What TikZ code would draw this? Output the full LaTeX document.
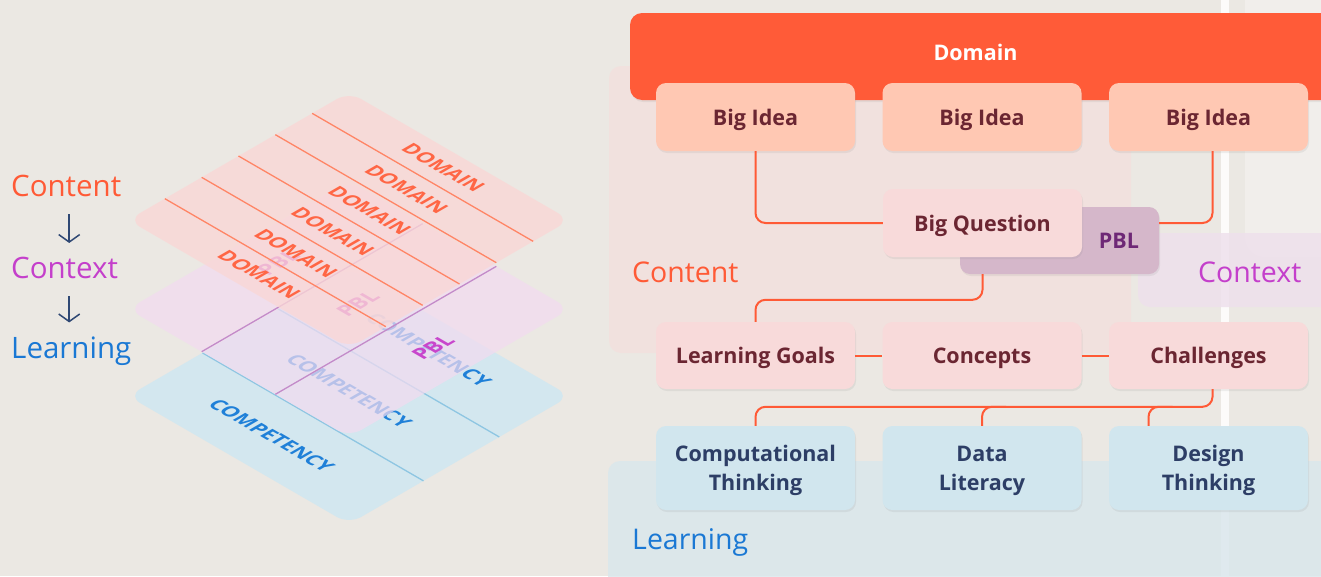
\documentclass[tikz,border=0pt]{standalone}
\usepackage{fontspec}
\setmainfont{Open Sans}
\usetikzlibrary{arrows.meta,calc,shadows}
\definecolor{bgc}{HTML}{EBE8E3}
\definecolor{contentc}{HTML}{FF5A36}
\definecolor{contextc}{HTML}{C43FCB}
\definecolor{learnc}{HTML}{1A78D4}
\definecolor{arrowc}{HTML}{2F4874}
\definecolor{topfill}{HTML}{FAD7D6}
\definecolor{topline}{HTML}{FF8566}
\definecolor{domc}{HTML}{FF6645}
\definecolor{midfill}{HTML}{F2DBF0}
\definecolor{midline}{HTML}{C38BC9}
\definecolor{pblc}{HTML}{C846CC}
\definecolor{botfill}{HTML}{D3E7EF}
\definecolor{botline}{HTML}{8EC6E2}
\definecolor{compc}{HTML}{1F80D8}
\definecolor{dombarc}{HTML}{FF5B38}
\definecolor{bigideac}{HTML}{FFC8B3}
\definecolor{pinkbox}{HTML}{F8DADA}
\definecolor{pblbox}{HTML}{D5B7CA}
\definecolor{bluebox}{HTML}{D1E6EE}
\definecolor{maroonc}{HTML}{6B2632}
\definecolor{navyc}{HTML}{2D3E66}
\definecolor{pbltxt}{HTML}{6E2876}
\definecolor{connc}{HTML}{FF5A36}
\definecolor{contreg}{HTML}{F3E0DE}
\definecolor{ctxreg}{HTML}{EEE0EC}
\definecolor{lrnreg}{HTML}{DAE7EC}
\begin{document}
\begin{tikzpicture}[x=1pt,y=-1pt,
  lbl/.style={inner sep=0pt, anchor=west, font=\fontsize{28.5}{30}\selectfont},
  llbl/.style={lbl, font=\fontsize{29.5}{30}\selectfont},
  downarr/.style={arrowc, line width=1.5pt, -{Straight Barb[length=7.5pt,width=21pt]}},
  isoA/.style={cm={0.866,-0.5,0.866,0.5,(0,0)}, transform shape, inner sep=0pt, font=\fontsize{20}{20}\selectfont\bfseries},
  isoB/.style={cm={0.866,0.5,-0.866,0.5,(0,0)}, transform shape, inner sep=0pt, font=\fontsize{21}{21}\selectfont\bfseries},
  box/.style={rounded corners=10pt, minimum width=199pt, minimum height=68pt, inner sep=0pt, align=center,
     text depth=0pt, font=\fontsize{21.5}{29}\selectfont\bfseries, drop shadow={opacity=0.12,shadow xshift=1pt,shadow yshift=-2pt}},
  bigidea/.style={box, fill=bigideac, text=maroonc},
  pinkb/.style={box, fill=pinkbox, text=maroonc, minimum height=67pt},
  blueb/.style={box, fill=bluebox, text=navyc, minimum height=84pt},
  pblb/.style={box, fill=pblbox, minimum height=67pt},
  conn/.style={connc, line width=2pt, rounded corners=10pt},
  region/.style={rounded corners=12pt, fill opacity=0.85},
  boxtxt/.style={inner sep=0pt, text depth=0pt, font=\fontsize{21.5}{22}\selectfont\bfseries}]
\useasboundingbox (0,0) rectangle (1321,576);
\clip (0,0) rectangle (1321,576);
\fill[bgc] (0,0) rectangle (1321,576);

% ---------- left labels ----------
\node[llbl, text=contentc] (lc) at (11,186) {Content};
\node[llbl, text=contextc] (lx) at (11,268) {Context};
\node[llbl, text=learnc] (ll) at (11,351) {Learning};
\draw[downarr, shorten <=17pt, shorten >=14pt] ([xshift=3pt]lc.south) -- ([xshift=3pt]lc.south |- lx.north);
\draw[downarr, shorten <=17pt, shorten >=14pt] ([xshift=3pt]lx.south -| lc.south) -- ([xshift=3pt]lc.south |- ll.north);

% ---------- isometric stack: bottom (learning) ----------
\begin{scope}[shift={(128,396)}, x={(221pt,128pt)}, y={(221pt,-128pt)}]
  \fill[botfill, rounded corners=14pt] (0,0) -- (1,0) -- (1,1) -- (0,1) -- cycle;
  \draw[botline, line width=1.3pt] (0.337,0) -- (0.337,1);
  \draw[botline, line width=1.3pt] (0.68,0) -- (0.68,1);
  \node[isoA, text=compc] (c1) at (0.17,0.48) {COMPETENCY};
  \node[isoA, text=compc] (c2) at (0.52,0.48) {COMPETENCY};
  \node[isoA, text=compc] (c3) at (0.86,0.50) {COMPETENCY};
\end{scope}
% ---------- middle (context) ----------
\begin{scope}[shift={(128,309)}, x={(221pt,128pt)}, y={(221pt,-128pt)}]
  \fill[midfill, fill opacity=0.72, rounded corners=14pt] (0,0) -- (1,0) -- (1,1) -- (0,1) -- cycle;
  \draw[midline, line width=1.3pt] (0,1/3) -- (1,1/3);
  \draw[midline, line width=1.3pt] (0,2/3) -- (1,2/3);
  \node[isoB, text=pblc] (p1) at (0.52,0.16) {PBL};
  \node[isoB, text=pblc] (p2) at (0.54,0.5) {PBL};
  \node[isoB, text=pblc] (p3) at (0.54,0.84) {PBL};
\end{scope}
% ---------- top (content) ----------
\begin{scope}[shift={(128,220)}, x={(221pt,128pt)}, y={(221pt,-128pt)}]
  \fill[topfill, fill opacity=0.78, rounded corners=14pt] (0,0) -- (1,0) -- (1,1) -- (0,1) -- cycle;
  \foreach \k in {1,...,5} {\draw[topline, line width=1.3pt] (\k/6,0) -- (\k/6,1);}
  \foreach \k in {0,...,5} {\node[isoA, text=domc] (d\k) at ({(\k+0.5)/6},0.51) {DOMAIN};}
\end{scope}

% ---------- right: backgrounds ----------
\fill[white, opacity=0.3, rounded corners=20pt] (1245,-20) rectangle (1360,257);
\fill[white, opacity=0.85] (1221,0) rectangle (1229,576);
\fill[contreg, region] (609,66) rectangle (1131,353);
\fill[ctxreg, region] (1138,233) rectangle (1360,307);
\fill[lrnreg, region] (608,461) rectangle (1360,610);
\node[lbl, text=contentc] (rc) at (632,272) {Content};
\node[lbl, text=contextc] (rx) at (1198,272) {Context};
\node[lbl, text=learnc] (rl) at (632,542) {Learning};

% ---------- right: boxes ----------
\node[fill=dombarc, rounded corners=12pt, minimum width=712pt, minimum height=87pt, inner sep=0pt,
      drop shadow={opacity=0.12,shadow xshift=1pt,shadow yshift=-2pt}] (dom) at (986,56.5) {};
\node[boxtxt, text=white] (domt) at (975.5,52) {Domain};
\node[bigidea] (bi1) at (755.5,117) {Big Idea};
\node[bigidea] (bi2) at (982,117) {Big Idea};
\node[bigidea] (bi3) at (1208.5,117) {Big Idea};
\node[pblb] (pbl) at (1059.5,240.5) {};
\node[boxtxt, text=pbltxt] (pblt) at (1119,241) {PBL};
\node[pinkb, minimum height=68pt] (bq) at (982.5,223) {Big Question};
\node[pinkb] (lg) at (755.5,355.5) {Learning Goals};
\node[pinkb] (cn) at (982,355.5) {Concepts};
\node[pinkb] (chl) at (1208.5,355.5) {Challenges};
\node[blueb] (ct) at (755.5,468) {Computational\\Thinking};
\node[blueb] (dl) at (982,468) {Data\\Literacy};
\node[blueb] (dt) at (1208.5,468) {Design\\Thinking};

% ---------- connectors ----------
\draw[conn] (bi1.south) |- (bq.west);
\draw[conn] ([xshift=4pt]bi3.south) |- (pbl.east |- bq.west);
\draw[conn] (bq.south |- pbl.south) |- ($(lg.north)+(0,-22)$) -- (lg.north);
\draw[conn] (lg.east) -- (cn.west);
\draw[conn] (cn.east) -- (chl.west);
\draw[conn] ([xshift=4pt]chl.south) |- ($(ct.north)+(0,-19)$) -- (ct.north);
\draw[conn] (dl.north) |- ($(dl.north)+(24,-19)$);
\draw[conn] ($(dt.north)+(-60,0)$) |- ($(dt.north)+(-36,-19)$);
\end{tikzpicture}
\end{document}
